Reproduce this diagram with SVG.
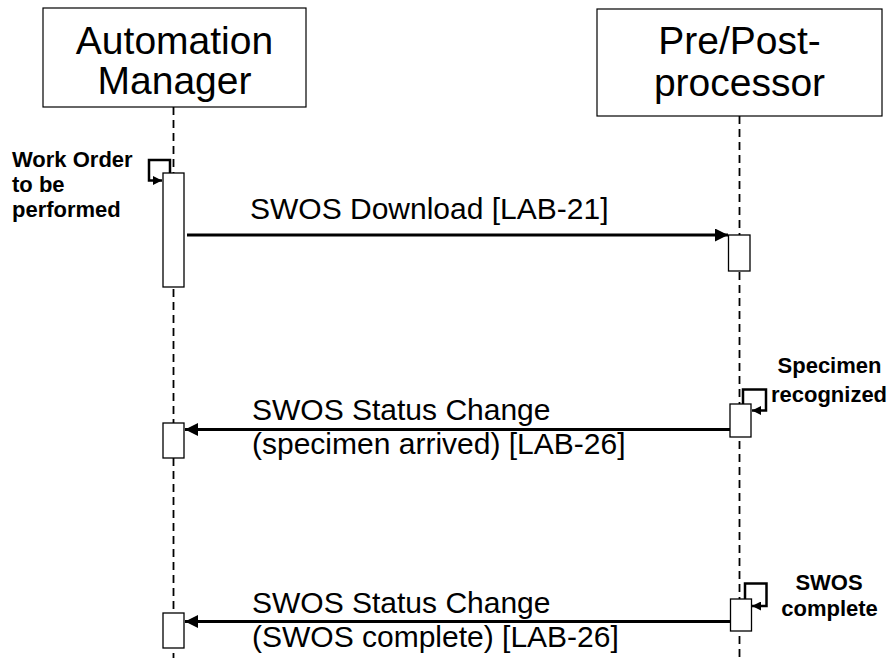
<svg xmlns="http://www.w3.org/2000/svg" width="890" height="658" viewBox="0 0 890 658">
<defs>
<style>
.head{fill:#fff;stroke:#000;stroke-width:1.2}
.htxt{font-family:"Liberation Sans",Arial,sans-serif;font-size:39px;fill:#000;text-anchor:middle}
.life{stroke:#000;stroke-width:1.8;stroke-dasharray:8 5;fill:none}
.act{fill:#fff;stroke:#000;stroke-width:1.3}
.msg{stroke:#000;stroke-width:2.8;fill:none}
.loop{stroke:#000;stroke-width:2.5;fill:none}
.mtxt{font-family:"Liberation Sans",Arial,sans-serif;font-size:30px;fill:#000}
.note{font-family:"Liberation Sans",Arial,sans-serif;font-size:22px;font-weight:bold;fill:#000}
</style>
<marker id="ah" viewBox="0 0 13 13" refX="13" refY="6.5" markerWidth="13" markerHeight="13" markerUnits="userSpaceOnUse" orient="auto">
<path d="M0,0 L13,6.5 L0,13 Z" fill="#000"/>
</marker>
<marker id="ahs" viewBox="0 0 9 9" refX="9" refY="4.5" markerWidth="9" markerHeight="9" markerUnits="userSpaceOnUse" orient="auto">
<path d="M0,0 L9,4.5 L0,9 Z" fill="#000"/>
</marker>
</defs>
<rect width="890" height="658" fill="#fff"/>

<g id="automation-manager">
<rect class="head" x="43" y="8" width="263" height="99"/>
<text class="htxt" x="174.5" y="54">Automation</text>
<text class="htxt" x="174.5" y="94">Manager</text>
<line class="life" x1="173.5" y1="107" x2="173.5" y2="658"/>
</g>

<g id="pre-post-processor">
<rect class="head" x="597" y="9" width="285" height="107"/>
<text class="htxt" x="739.5" y="54">Pre/Post-</text>
<text class="htxt" x="739.5" y="96">processor</text>
<line class="life" x1="739.5" y1="116" x2="739.5" y2="658"/>
</g>

<g id="connectors">
<path class="loop" d="M170,173 V160 H149 V180.5 H162" marker-end="url(#ahs)"/>
<line class="msg" x1="187" y1="235" x2="728" y2="235" marker-end="url(#ah)"/>
<path class="loop" d="M743,404 V389.5 H766 V410.5 H752" marker-end="url(#ahs)"/>
<line class="msg" x1="730" y1="429.5" x2="185" y2="429.5" marker-end="url(#ah)"/>
<path class="loop" d="M745,599 V583.5 H766.5 V606 H752" marker-end="url(#ahs)"/>
<line class="msg" x1="730" y1="621.5" x2="185" y2="621.5" marker-end="url(#ah)"/>
</g>

<g id="activations">
<rect class="act" x="163" y="173" width="21" height="114"/>
<rect class="act" x="728.5" y="235" width="21.5" height="36"/>
<rect class="act" x="730" y="404" width="21" height="33"/>
<rect class="act" x="163" y="423" width="21" height="35"/>
<rect class="act" x="730.5" y="599" width="21" height="32"/>
<rect class="act" x="163" y="613" width="21" height="35"/>
</g>

<g id="labels">
<text class="note" x="12" y="167">Work Order</text>
<text class="note" x="12" y="192">to be</text>
<text class="note" x="12" y="217">performed</text>
<text class="mtxt" x="250" y="219">SWOS Download [LAB-21]</text>
<text class="note" x="829.5" y="373" text-anchor="middle">Specimen</text>
<text class="note" x="829" y="402" text-anchor="middle">recognized</text>
<text class="mtxt" x="252" y="420">SWOS Status Change</text>
<text class="mtxt" x="252" y="454">(specimen arrived) [LAB-26]</text>
<text class="note" x="829" y="590" text-anchor="middle">SWOS</text>
<text class="note" x="829.5" y="616" text-anchor="middle">complete</text>
<text class="mtxt" x="252" y="613">SWOS Status Change</text>
<text class="mtxt" x="252" y="647">(SWOS complete) [LAB-26]</text>
</g>
</svg>
